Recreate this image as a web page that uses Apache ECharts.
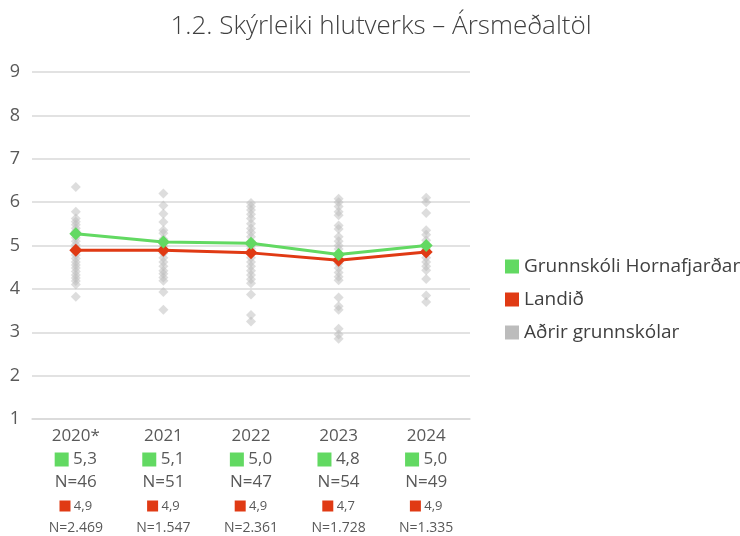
<!DOCTYPE html>
<html>
<head>
<meta charset="utf-8">
<script src="https://cdn.jsdelivr.net/npm/echarts@6/dist/echarts.min.js"></script>
<style>
  html, body { margin: 0; padding: 0; background: #fff; }
  #chart { width: 740px; height: 536px; }
</style>
</head>
<body>
<div id="chart"></div>
<script>
const years = ["2020*", "2021", "2022", "2023", "2024"];
const schoolAvg = [5.27, 5.08, 5.05, 4.79, 5.0];
const schoolLabel = ["5,3", "5,1", "5,0", "4,8", "5,0"];
const schoolN = ["46", "51", "47", "54", "49"];
const landAvg = [4.89, 4.89, 4.83, 4.66, 4.85];
const landLabel = ["4,9", "4,9", "4,9", "4,7", "4,9"];
const landN = ["2.469", "1.547", "2.361", "1.728", "1.335"];

// other schools, one list per year
const other2020 = [6.35, 5.78, 5.62, 5.55, 5.48, 5.4, 5.33, 5.25, 5.18, 5.1, 5.02, 4.95, 4.85, 4.78, 4.7, 4.62, 4.55, 4.48, 4.4, 4.32, 4.25, 4.18, 4.1, 3.82];
const other2021 = [6.2, 5.92, 5.73, 5.54, 5.35, 5.28, 5.15, 5.08, 4.98, 4.9, 4.82, 4.72, 4.62, 4.52, 4.42, 4.35, 4.26, 4.19, 3.93, 3.52];
const other2022 = [5.98, 5.9, 5.82, 5.72, 5.62, 5.5, 5.39, 5.3, 5.2, 5.1, 5.0, 4.93, 4.82, 4.72, 4.62, 4.52, 4.42, 4.32, 4.22, 4.13, 3.87, 3.4, 3.25];
const other2023 = [6.08, 6.0, 5.9, 5.78, 5.7, 5.46, 5.38, 5.2, 5.1, 5.0, 4.92, 4.78, 4.68, 4.58, 4.48, 4.38, 4.28, 4.2, 3.8, 3.6, 3.52, 3.08, 2.95, 2.85];
const other2024 = [6.1, 6.0, 5.75, 5.35, 5.25, 5.12, 5.02, 4.92, 4.82, 4.72, 4.62, 4.52, 4.43, 4.23, 3.85, 3.7];

const GREEN = "#62d962";
const RED = "#e03a14";
const GRAY = "#bcbcbc";
const TXT = "#595959";
const FONT = "Open Sans";

const others = [other2020, other2021, other2022, other2023, other2024];
const scatterData = [];
others.forEach((list, i) => {
  list.forEach((v) => scatterData.push([i, v]));
});

const chart = echarts.init(document.getElementById("chart"));
chart.setOption({
  textStyle: { fontFamily: FONT },
  title: {
    text: "1.2. Skýrleiki hlutverks – Ársmeðaltöl",
    left: 376,
    textAlign: "center",
    top: 9,
    textStyle: { fontSize: 26, fontWeight: 300, color: "#404040", fontFamily: FONT },
  },
  legend: {
    orient: "vertical",
    left: 500,
    top: 252,
    icon: "rect",
    itemWidth: 14,
    itemHeight: 14,
    itemGap: 14,
    textStyle: { fontSize: 19, color: "#404040", fontFamily: FONT },
    data: [
      { name: "Grunnskóli Hornafjarðar", itemStyle: { color: GREEN } },
      { name: "Landið", itemStyle: { color: RED } },
      { name: "Aðrir grunnskólar", itemStyle: { color: GRAY, opacity: 1 } },
    ],
  },
  grid: { left: 32, right: 270, top: 72, bottom: 117, containLabel: false },
  xAxis: {
    type: "category",
    data: years,
    axisLine: { lineStyle: { color: "#d9d9d9", width: 1.5 } },
    axisTick: { show: false },
    axisLabel: {
      margin: 5,
      interval: 0,
      formatter: (val, idx) =>
        "{yr|" + val + "}\n" +
        "{gs|}{v| " + schoolLabel[idx] + "}\n" +
        "{n|N=" + schoolN[idx] + "}\n" +
        "{rs|}{v2| " + landLabel[idx] + "}\n" +
        "{n2|N=" + landN[idx] + "}",
      rich: {
        yr: { fontSize: 17, lineHeight: 24, color: TXT, fontFamily: FONT },
        gs: { backgroundColor: GREEN, width: 14, height: 14 },
        v: { fontSize: 17, lineHeight: 23, color: TXT, fontFamily: FONT },
        n: { fontSize: 17, lineHeight: 23, color: TXT, fontFamily: FONT },
        rs: { backgroundColor: RED, width: 11, height: 11 },
        v2: { fontSize: 13, lineHeight: 24, color: TXT, fontFamily: FONT },
        n2: { fontSize: 14, lineHeight: 20, color: TXT, fontFamily: FONT },
      },
    },
  },
  yAxis: {
    type: "value",
    min: 1,
    max: 9,
    interval: 1,
    axisLine: { show: false },
    axisTick: { show: false },
    axisLabel: { fontSize: 18, color: TXT, margin: 12, fontFamily: FONT },
    splitLine: { lineStyle: { color: "#d9d9d9", width: 1.5 } },
  },
  series: [
    {
      name: "Aðrir grunnskólar",
      type: "scatter",
      data: scatterData,
      symbol: "diamond",
      symbolSize: 10,
      itemStyle: { color: GRAY, opacity: 0.5 },
      z: 1,
    },
    {
      name: "Landið",
      type: "line",
      data: landAvg,
      symbol: "diamond",
      symbolSize: 13,
      lineStyle: { color: RED, width: 3 },
      itemStyle: { color: RED },
      z: 3,
    },
    {
      name: "Grunnskóli Hornafjarðar",
      type: "line",
      data: schoolAvg,
      symbol: "diamond",
      symbolSize: 13,
      lineStyle: { color: GREEN, width: 3 },
      itemStyle: { color: GREEN },
      z: 4,
    },
  ],
});
</script>
</body>
</html>
